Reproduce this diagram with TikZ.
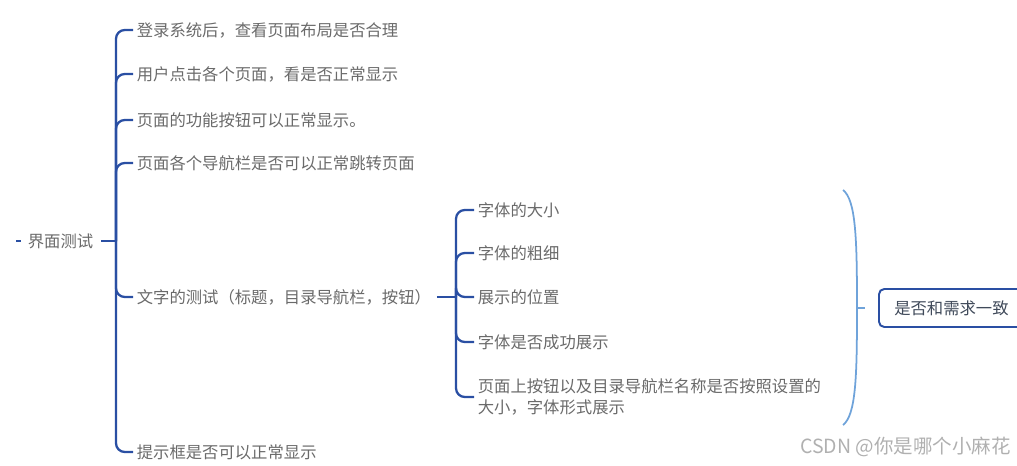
\documentclass[tikz,border=0pt]{standalone}
\usepackage{fontspec}
\setmainfont{Noto Sans CJK SC}
\usetikzlibrary{positioning}
\definecolor{branchblue}{HTML}{2A4FA3}
\definecolor{bracelight}{HTML}{6FA3DA}
\definecolor{leaftext}{HTML}{6A6A6A}
\definecolor{boxtext}{HTML}{404A5A}
\definecolor{marktext}{HTML}{B0B0B0}
\tikzset{
  topic/.style={inner sep=2pt,text=leaftext,anchor=west,align=left,
    font=\fontsize{9.3}{11.9}\selectfont},
  branch/.style={draw=branchblue,line width=1.3pt,rounded corners=5pt},
  summary/.style={draw=bracelight,line width=1pt},
  resultbox/.style={draw=branchblue,line width=1.1pt,rounded corners=3pt,fill=white,
    anchor=west,minimum width=2.9cm,minimum height=0.76cm,text=boxtext,
    font=\fontsize{9.3}{11.9}\selectfont},
  marklabel/.style={text=marktext,anchor=east,inner sep=0pt,
    font=\fontsize{11.1}{13}\selectfont}
}
\begin{document}
\begin{tikzpicture}[x=0.02cm,y=-0.02cm]
        \useasboundingbox (0,0) rectangle (1017,466);
        \clip (0,0) rectangle (1017,466);
        % root topic
        \node[topic] (root) at (24,241) {界面测试};
        \coordinate (rootmark) at (16,241);
        \draw[branch] (rootmark) -- ++(5,0);
        \coordinate (s1) at (116,241);
        \draw[branch] (root.east) ++(4,0) -- (s1);
        % first level
        \node[topic] (c1) at (133,30) {登录系统后，查看页面布局是否合理};
        \node[topic] (c2) at (133,74) {用户点击各个页面，看是否正常显示};
        \node[topic] (c3) at (133,120) {页面的功能按钮可以正常显示。};
        \node[topic] (c4) at (133,163) {页面各个导航栏是否可以正常跳转页面};
        \node[topic] (c5) at (133,297) {文字的测试（标题，目录导航栏，按钮）};
        \node[topic] (c6) at (133,452) {提示框是否可以正常显示};
        \draw[branch] (s1) |- (c1.west);
        \draw[branch] (s1) |- (c2.west);
        \draw[branch] (s1) |- (c3.west);
        \draw[branch] (s1) |- (c4.west);
        \draw[branch] (s1) |- (c5.west);
        \draw[branch] (s1) |- (c6.west);
        % second level
        \coordinate (s2) at (456,297);
        \node[topic] (d1) at (474,210) {字体的大小};
        \node[topic] (d2) at (474,253) {字体的粗细};
        \node[topic] (d3) at (474,297) {展示的位置};
        \node[topic] (d4) at (474,342) {字体是否成功展示};
        \node[topic] (d5) at (474,397) {页面上按钮以及目录导航栏名称是否按照设置的\\大小，字体形式展示};
        \draw[branch] (c5.east) ++(2,0) -- (s2);
        \draw[branch] (s2) |- (d1.west);
        \draw[branch] (s2) |- (d2.west);
        \draw[branch] (s2) |- (d3.west);
        \draw[branch] (s2) |- (d4.west);
        \draw[branch] (s2) |- (d5.west);
        % summary bracket
        \coordinate (bt) at (843,190);
        \coordinate (bm) at (857,308);
        \coordinate (bb) at (843,425);
        \draw[summary] (bt) .. controls (856,200) and (857,240) .. (bm)
          .. controls (857,376) and (856,415) .. (bb);
        \coordinate (bend) at (865,308);
        \draw[summary] (bm) -- (bend);
        \node[resultbox] (res) at (878,308) {是否和需求一致};
        % watermark
        \node[marklabel] (mark) at (1011,447) {CSDN @你是哪个小麻花};
      \end{tikzpicture}
\end{document}
